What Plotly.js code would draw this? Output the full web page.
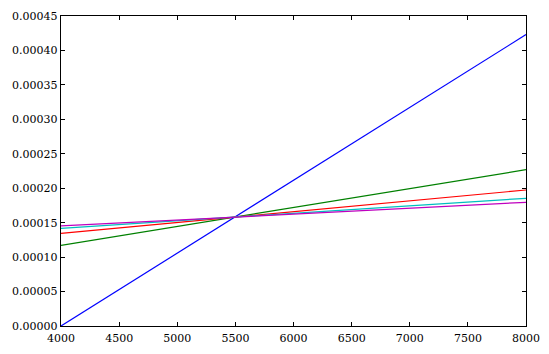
<!DOCTYPE html>
<html>
<head>
<meta charset="utf-8">
<script src="https://cdn.plot.ly/plotly-3.0.1.min.js"></script>
<style>html,body{margin:0;padding:0;background:#fff;}#chart{width:549px;height:354px;}</style>
</head>
<body>
<div id="chart"></div>
<script>
const xValues = [4000, 8000];
const blueY = [0.0, 0.000423];
const greenY = [0.0001171, 0.0002269];
const redY = [0.0001345, 0.0001974];
const cyanY = [0.0001418, 0.0001854];
const magentaY = [0.0001452, 0.0001796];
const xTicks = [4000, 4500, 5000, 5500, 6000, 6500, 7000, 7500, 8000];
const yTicks = [0, 0.00005, 0.0001, 0.00015, 0.0002, 0.00025, 0.0003, 0.00035, 0.0004, 0.00045];

const series = [
  {y: blueY, color: '#0000ff'},
  {y: greenY, color: '#008000'},
  {y: redY, color: '#ff0000'},
  {y: cyanY, color: '#00bfbf'},
  {y: magentaY, color: '#bf00bf'}
];
const traces = series.map(s => ({
  x: xValues, y: s.y, type: 'scatter', mode: 'lines',
  line: {color: s.color, width: 1.2}, hoverinfo: 'none', showlegend: false
}));

const axisCommon = {
  showgrid: false, zeroline: false, showline: true, linecolor: '#000', linewidth: 1.2,
  mirror: 'allticks', ticks: 'inside', ticklen: 4, tickwidth: 1, tickcolor: '#000',
  tickfont: {family: '"DejaVu Serif", serif', size: 11, color: '#000'}
};
const layout = {
  width: 549, height: 354,
  margin: {l: 61, r: 23, t: 16, b: 28},
  paper_bgcolor: '#fff', plot_bgcolor: '#fff',
  xaxis: Object.assign({}, axisCommon, {range: [4000, 8000], tickvals: xTicks, ticktext: xTicks.map(String), ticklabelstandoff: 2}),
  yaxis: Object.assign({}, axisCommon, {range: [0, 0.00045], tickvals: yTicks, ticktext: yTicks.map(v => v.toFixed(5))})
};
Plotly.newPlot('chart', traces, layout, {staticPlot: true, displayModeBar: false});
</script>
</body>
</html>
